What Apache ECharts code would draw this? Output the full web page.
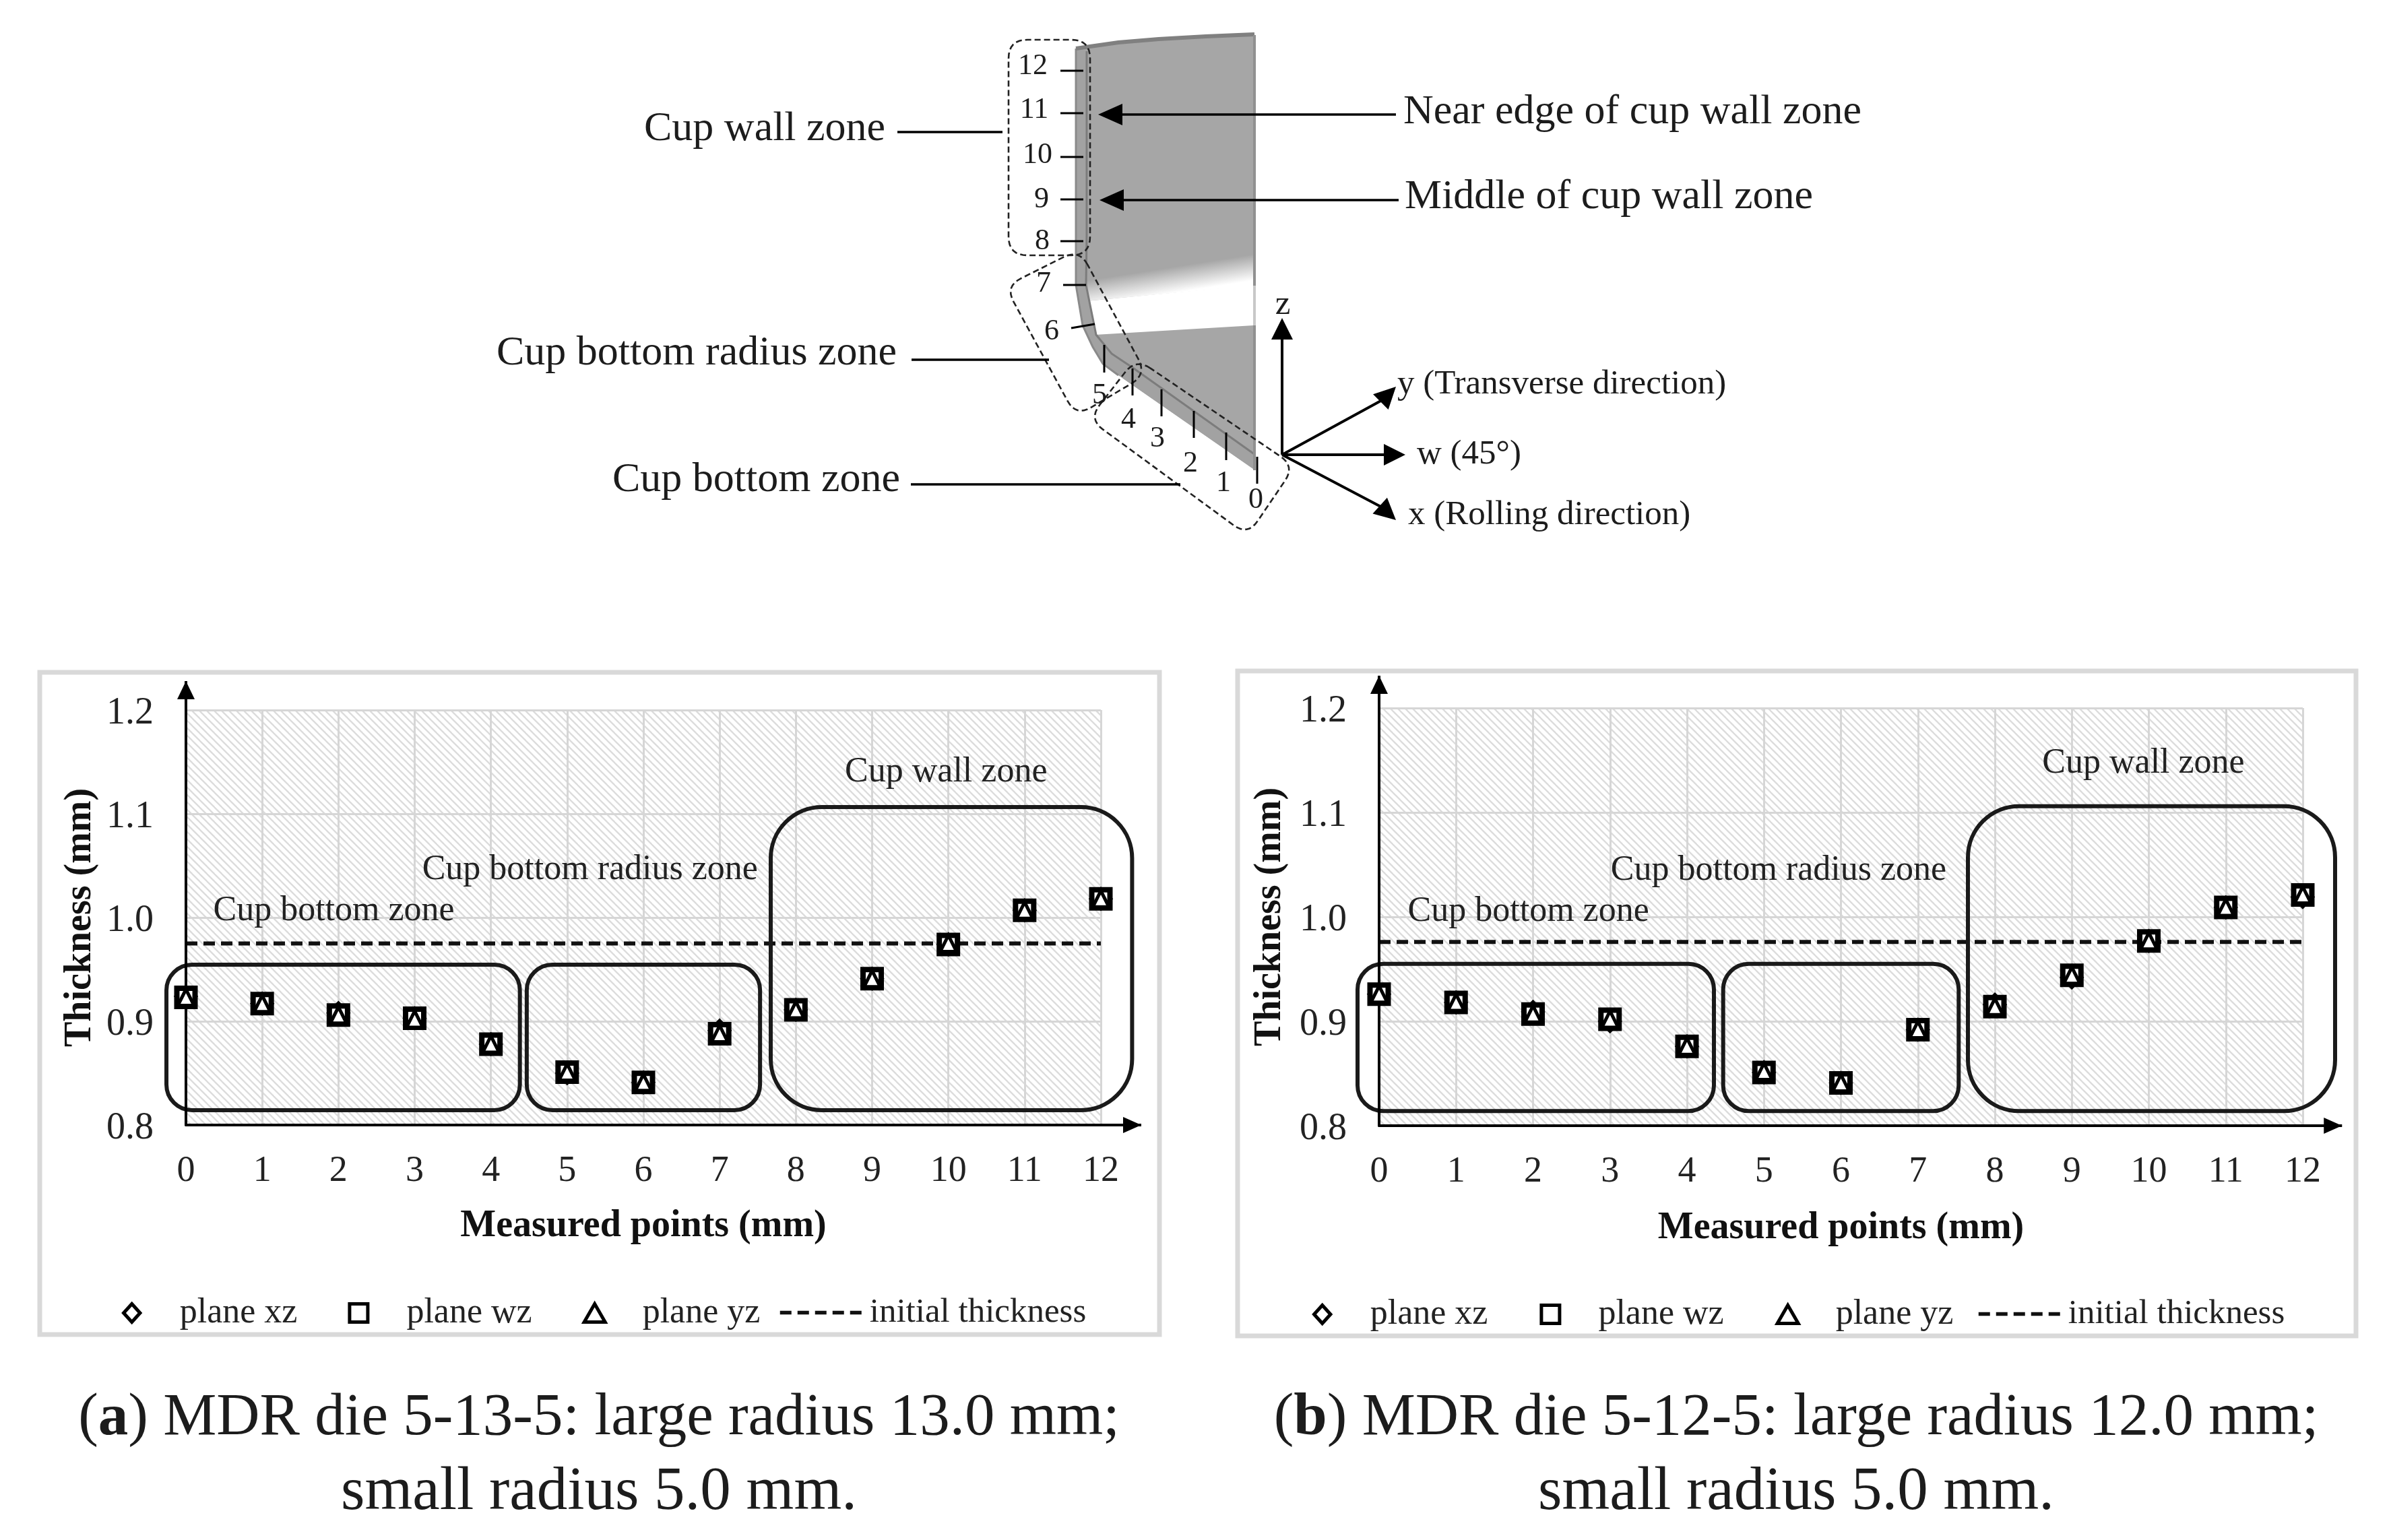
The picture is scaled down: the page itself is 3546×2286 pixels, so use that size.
<!DOCTYPE html>
<html>
<head>
<meta charset="utf-8">
<style>html,body{margin:0;padding:0;background:#fff}#c{width:3546px;height:2286px}</style>
<script src="https://cdn.jsdelivr.net/npm/echarts@6/dist/echarts.min.js"></script>
</head>
<body>
<div id="c"></div>
<script>
// ---- data ----
const measuredPoints = [0,1,2,3,4,5,6,7,8,9,10,11,12];
const aPlaneXz = [0.924,0.917,0.908,0.903,0.878,0.850,0.841,0.891,0.911,0.941,0.974,1.007,1.018];
const aPlaneWz = [0.923,0.917,0.906,0.903,0.878,0.851,0.841,0.888,0.911,0.941,0.974,1.007,1.018];
const aPlaneYz = [0.923,0.917,0.906,0.902,0.878,0.851,0.841,0.888,0.911,0.941,0.975,1.007,1.018];
const aInitial = [0.975,0.975,0.975,0.975,0.975,0.975,0.975,0.975,0.975,0.975,0.975,0.975,0.975];
const bPlaneXz = [0.926,0.918,0.909,0.900,0.876,0.851,0.841,0.892,0.916,0.942,0.977,1.009,1.019];
const bPlaneWz = [0.926,0.918,0.907,0.902,0.876,0.851,0.841,0.892,0.914,0.944,0.977,1.009,1.021];
const bPlaneYz = [0.926,0.918,0.907,0.902,0.876,0.852,0.841,0.892,0.914,0.944,0.977,1.009,1.021];
const bInitial = [0.976,0.976,0.976,0.976,0.976,0.976,0.976,0.976,0.976,0.976,0.976,0.976,0.976];
const legendNames = ['plane xz','plane wz','plane yz','initial thickness'];
const zoneNames = ['Cup bottom zone','Cup bottom radius zone','Cup wall zone'];
// zone boxes in axis units: x from, x to, y from, y to
const aZones = [[-0.256,4.38,0.8143,0.9545],[4.47,7.53,0.8143,0.9545],[7.67,12.41,0.8143,1.1065]];
const bZones = [[-0.28,4.35,0.814,0.955],[4.47,7.53,0.814,0.955],[7.65,12.42,0.814,1.106]];
// zone captions in axis units: x, y
const aZoneText = [[1.94,1.006],[5.30,1.0457],[9.97,1.140]];
const bZoneText = [[1.94,1.005],[5.19,1.0445],[9.93,1.147]];
// ----
const SERIF = '"Liberation Serif"';
const INK = '#1a1a1a';

function hatch(){
  const s=11;
  const c=document.createElement('canvas');c.width=c.height=s;
  const g=c.getContext('2d');g.fillStyle='#ffffff';g.fillRect(0,0,s,s);
  g.strokeStyle='#dcdcdc';g.lineWidth=2.3;
  [[-s,-s,2*s,2*s],[-s,0,s,2*s],[0,-s,2*s,s]].forEach(l=>{g.beginPath();g.moveTo(l[0],l[1]);g.lineTo(l[2],l[3]);g.stroke();});
  return c;
}
const hatchFill={image:hatch(),repeat:'repeat'};

function roundedBox(api,p0,p1,r){
  const x=Math.min(p0[0],p1[0]),y=Math.min(p0[1],p1[1]);
  return {type:'rect',shape:{x,y,width:Math.abs(p1[0]-p0[0]),height:Math.abs(p1[1]-p0[1]),r},
    style:{fill:'none',stroke:INK,lineWidth:6},z2:5};
}
function zoneSeries(idx,zones,texts){
  return [{
    type:'custom',name:'zones',xAxisIndex:idx,yAxisIndex:idx,clip:false,silent:true,z:4,
    encode:{x:[0,1],y:[2,3]},data:zones,
    renderItem:(p,api)=>{
      const a=api.coord([api.value(0),api.value(2)]),b=api.coord([api.value(1),api.value(3)]);
      return roundedBox(api,a,b,p.dataIndex===2?76:38);
    }
  },{
    type:'custom',name:'zoneText',xAxisIndex:idx,yAxisIndex:idx,clip:false,silent:true,z:3,
    encode:{x:0,y:1},data:texts,
    renderItem:(p,api)=>{
      const a=api.coord([api.value(0),api.value(1)]);
      return {type:'text',x:a[0],y:a[1],style:{text:zoneNames[p.dataIndex],fill:'#222',
        font:'52px '+SERIF,textAlign:'center',textVerticalAlign:'middle'}};
    }
  }];
}
function arrowSeries(idx,xTip,yTip){
  return {
    type:'custom',name:'axisArrows',xAxisIndex:idx,yAxisIndex:idx,clip:false,silent:true,z:6,
    encode:{x:0,y:1},data:[[xTip,0.8],[0,yTip]],
    renderItem:(p,api)=>{
      const o=api.coord([0,0.8]),t=api.coord([api.value(0),api.value(1)]);
      const horiz=p.dataIndex===0;
      const head=horiz?[[t[0],t[1]],[t[0]-27,t[1]-12],[t[0]-27,t[1]+12]]
                      :[[t[0],t[1]],[t[0]-13,t[1]+27],[t[0]+13,t[1]+27]];
      return {type:'group',children:[
        {type:'line',shape:{x1:o[0],y1:o[1],x2:t[0],y2:t[1]},style:{stroke:'#000',lineWidth:4}},
        {type:'polygon',shape:{points:head},style:{fill:'#000'}}
      ]};
    }
  };
}
function pairs(v){return measuredPoints.map((x,i)=>[x,v[i]]);}
function panelSeries(idx,xz,wz,yz,init){
  const sc=(name,sym,size,bw,v,z)=>({type:'scatter',name,xAxisIndex:idx,yAxisIndex:idx,symbol:sym,symbolSize:size,
    clip:false,z,data:pairs(v),itemStyle:{color:'#fff',borderColor:'#000',borderWidth:bw,opacity:1}});
  return [
    {type:'line',name:legendNames[3],xAxisIndex:idx,yAxisIndex:idx,data:pairs(init),symbol:'none',showSymbol:false,clip:false,z:3,
      lineStyle:{color:'#111',width:6,type:[17,9]},itemStyle:{color:'#111'}},
    sc(legendNames[0],'diamond',28,6,xz,7),
    sc(legendNames[1],'rect',27,8,wz,8),
    sc(legendNames[2],'triangle',24,5,yz,9)
  ];
}
function xAxis(idx,gap){return {type:'value',gridIndex:idx,min:0,max:12,interval:1,
  name:'Measured points (mm)',nameLocation:'middle',nameGap:gap,
  nameTextStyle:{fontFamily:SERIF,fontWeight:'bold',fontSize:56,color:'#111'},
  axisLine:{show:true,onZero:false,lineStyle:{color:'#000',width:4}},axisTick:{show:false},
  axisLabel:{fontFamily:SERIF,fontSize:54,color:'#222',margin:42,showMinLabel:true,showMaxLabel:true,hideOverlap:false},
  splitLine:{show:true,lineStyle:{color:'#d6d6d6',width:3}}};}
function yAxis(idx,gap){return {type:'value',gridIndex:idx,min:0.8,max:1.2,interval:0.1,
  name:'Thickness (mm)',nameLocation:'middle',nameGap:gap,nameRotate:90,
  nameTextStyle:{fontFamily:SERIF,fontWeight:'bold',fontSize:56,color:'#111'},
  axisLine:{show:true,onZero:false,lineStyle:{color:'#000',width:4}},axisTick:{show:false},
  axisLabel:{margin:48,formatter:v=>'{t|'+v.toFixed(1)+'}',
    rich:{t:{fontFamily:SERIF,fontSize:56,color:'#222',padding:[10,0,0,0]}}},
  splitLine:{show:true,lineStyle:{color:'#d6d6d6',width:3}}};}
const legendIcons=['path://M0 -1.05L0.95 0L0 1.05L-0.95 0Z','path://M-1 -1L1 -1L1 1L-1 1Z','path://M0 -1L1.15 1L-1.15 1Z'];
function legendSymbols(left,top,gap){return {show:true,left,top,orient:'horizontal',itemWidth:124,itemHeight:27,itemGap:gap,selectedMode:false,
  data:legendNames.slice(0,3).map((n,i)=>({name:n,icon:legendIcons[i],
    itemStyle:{color:'#fff',borderColor:'#000',borderWidth:5}})),
  textStyle:{fontFamily:SERIF,fontSize:52,color:'#222',padding:[0,0,0,4]}};}
function legendLine(left,top){return {show:true,left,top,orient:'horizontal',itemWidth:124,itemHeight:27,selectedMode:false,
  data:[{name:legendNames[3],itemStyle:{color:'rgba(0,0,0,0)',borderColor:'rgba(0,0,0,0)',borderWidth:0},
    lineStyle:{color:'#111',width:5.5,type:[17,9]}}],
  textStyle:{fontFamily:SERIF,fontSize:51,color:'#222',padding:[0,0,0,4]}};}

// ---- schematic helpers (illustration above the charts) ----
function rpoly(pts,r){
  const out=[];const n=pts.length;
  for(let i=0;i<n;i++){
    const p=pts[i],a=pts[(i+n-1)%n],b=pts[(i+1)%n];
    const la=Math.hypot(a[0]-p[0],a[1]-p[1]),lb=Math.hypot(b[0]-p[0],b[1]-p[1]);
    const s=[p[0]+(a[0]-p[0])*r/la,p[1]+(a[1]-p[1])*r/la],e=[p[0]+(b[0]-p[0])*r/lb,p[1]+(b[1]-p[1])*r/lb];
    for(let t=0;t<=1.001;t+=0.125){
      const u=1-t;out.push([u*u*s[0]+2*u*t*p[0]+t*t*e[0],u*u*s[1]+2*u*t*p[1]+t*t*e[1]]);
    }
  }
  out.push(out[0]);return out;
}
function ln(x1,y1,x2,y2,w,c){return {type:'line',shape:{x1,y1,x2,y2},style:{stroke:c||'#000',lineWidth:w||3}};}
function arrowHead(tx,ty,dx,dy,len,hw){
  const l=Math.hypot(dx,dy),ux=dx/l,uy=dy/l;
  return {type:'polygon',shape:{points:[[tx,ty],[tx-ux*len-uy*hw,ty-uy*len+ux*hw],[tx-ux*len+uy*hw,ty-uy*len-ux*hw]]},style:{fill:'#000'}};
}
function txt(s,x,y,size,align,opt){return Object.assign({type:'text',x,y:y+3,style:{text:s,fill:'#1c1c1c',font:size+'px '+SERIF,textAlign:align||'left',textVerticalAlign:'middle'}},opt||{});}
function dashed(points){return {type:'polyline',shape:{points},style:{stroke:'#222',lineWidth:2.6,lineDash:[9,5],fill:'none'}};}

const topEdge=[[1597,72],[1660,63],[1720,58],[1790,54],[1862,51]];
const outerEdge=[[1597,72],[1597,350],[1597,423],[1607,483],[1622,515],[1637,540],[1660,557],[1863,698]];
const innerEdge=[[1613,76],[1613,350],[1612,423],[1627,497],[1650,525],[1683,547],[1863,675]];
const bodyPts=[].concat(topEdge,[[1863,698]],outerEdge.slice().reverse().slice(1));
const bandPts=[[1612,447],[1861,423],[1861,483],[1625,497]];
const fadePts=[[1610,447],[1610,415],[1861,378],[1861,424]];
const stripPts=outerEdge.concat(innerEdge.slice().reverse());

const sketch=[
  {type:'polygon',shape:{points:bodyPts},style:{fill:'#a6a6a6'}},
  {type:'polygon',shape:{points:fadePts},style:{fill:{type:'linear',global:true,x:1736,y:397,x2:1742,y2:435,colorStops:[{offset:0,color:'rgba(255,255,255,0)'},{offset:1,color:'#fff'}]}}},
  {type:'polygon',shape:{points:bandPts},style:{fill:'#fff'}},
  {type:'polygon',shape:{points:stripPts},style:{fill:'#a2a2a2'}},
  {type:'polyline',shape:{points:innerEdge},style:{stroke:'#7c7c7c',lineWidth:3,fill:'none'}},
  {type:'polyline',shape:{points:outerEdge.slice(0,-1)},style:{stroke:'#8a8a8a',lineWidth:3,fill:'none'}},
  {type:'polyline',shape:{points:topEdge},style:{stroke:'#808080',lineWidth:6,fill:'none'}},
  ln(1862,52,1862,424,4,'#909090'),ln(1862,424,1862,483,4,'#c8c8c8'),ln(1862,483,1862,698,4,'#909090'),
  dashed(rpoly([[1497,59],[1618,59],[1618,379],[1497,379]],28)),
  dashed(rpoly([[1602,370],[1492,425],[1597,618],[1702,556]],26)),
  dashed(rpoly([[1686,532],[1616,622],[1852,795],[1922,692]],26)),
  // tick marks
  ln(1574,105,1608,105),ln(1574,168,1608,168),ln(1574,233,1608,233),ln(1574,296,1608,296),ln(1574,358,1608,358),ln(1578,423,1612,423),
  ln(1590,487,1625,481),ln(1639,512,1639,553),ln(1681,547,1681,587),ln(1724,578,1724,618),ln(1772,610,1772,650),ln(1820,642,1820,683),ln(1866,678,1866,718),
  // leaders
  ln(1332,196,1488,196,3.4),ln(1353,534,1557,534,3.4),ln(1352,719,1752,719,3.4),
  ln(2072,170,1660,170,3.6),arrowHead(1630,170,-1,0,36,16),
  ln(2076,297,1660,297,3.6),arrowHead(1632,297,-1,0,36,16),
  // direction axes
  ln(1903,675,1903,495,4),arrowHead(1903,472,0,-1,32,16),
  ln(1903,675,2065,675,4),arrowHead(2086,675,1,0,32,16),
  ln(1903,675,2055,592,4),arrowHead(2072,574,1,-1.0,32,16),
  ln(1903,675,2055,755,4),arrowHead(2072,772,1,0.9,32,16),
  txt('z',1904,450,51,'center'),
  txt('y (Transverse direction)',2074,568,51),
  txt('w (45°)',2103,672,51),
  txt('x (Rolling direction)',2090,762,51)
];
[['12',1533,95],['11',1535,160],['10',1540,227],['9',1546,293],['8',1547,355],['7',1549,418],['6',1561,489],['5',1632,584],['4',1675,620],['3',1718,648],['2',1767,685],['1',1816,714],['0',1864,739]]
 .forEach(d=>sketch.push(txt(d[0],d[1],d[2],44,'center')));
[['Cup wall zone',956,189],['Cup bottom radius zone',737,522],['Cup bottom zone',909,710],['Near edge of cup wall zone',2083,164],['Middle of cup wall zone',2085,290]]
 .forEach(d=>sketch.push(txt(d[0],d[1],d[2],62)));

const frames=[
  {type:'rect',shape:{x:59,y:998,width:1662,height:983},style:{fill:'none',stroke:'#d9d9d9',lineWidth:7},z:-1},
  {type:'rect',shape:{x:1837,y:996,width:1660,height:987},style:{fill:'none',stroke:'#d9d9d9',lineWidth:7},z:-1}
];
function caption(cx,y1,y2,letter,line1,line2){
  const rich={b:{fontFamily:SERIF,fontWeight:'bold',fontSize:89,fill:'#1c1c1c'}};
  return [
    {type:'text',x:cx,y:y1,style:{fill:'#1c1c1c',font:'89px '+SERIF,textAlign:'center',textVerticalAlign:'middle',
      text:'({b|'+letter+'}) '+line1,rich}},
    {type:'text',x:cx,y:y2,style:{text:line2,fill:'#1c1c1c',font:'91px '+SERIF,textAlign:'center',textVerticalAlign:'middle'}}
  ];
}
const captions=[].concat(
  caption(889,2106,2216,'a','MDR die 5-13-5: large radius 13.0 mm;','small radius 5.0 mm.'),
  caption(2666,2106,2216,'b','MDR die 5-12-5: large radius 12.0 mm;','small radius 5.0 mm.')
);

const option={
  animation:false,backgroundColor:'#fff',
  grid:[
    {left:276,top:1054,width:1358,height:616,show:true,backgroundColor:hatchFill,borderWidth:0},
    {left:2047,top:1051,width:1371,height:620,show:true,backgroundColor:hatchFill,borderWidth:0}
  ],
  xAxis:[xAxis(0,123),xAxis(1,125)],
  yAxis:[yAxis(0,128),yAxis(1,133)],
  legend:[legendSymbols(176,1918,75),legendLine(1150,1918),legendSymbols(1943,1920,77),legendLine(2929,1920)],
  series:[].concat(
    panelSeries(0,aPlaneXz,aPlaneWz,aPlaneYz,aInitial),zoneSeries(0,aZones,aZoneText),[arrowSeries(0,12.53,1.228)],
    panelSeries(1,bPlaneXz,bPlaneWz,bPlaneYz,bInitial),zoneSeries(1,bZones,bZoneText),[arrowSeries(1,12.51,1.231)]
  ),
  graphic:{elements:[].concat(frames,sketch,captions)}
};
const chart=echarts.init(document.getElementById('c'));
chart.setOption(option);
</script>
</body>
</html>
